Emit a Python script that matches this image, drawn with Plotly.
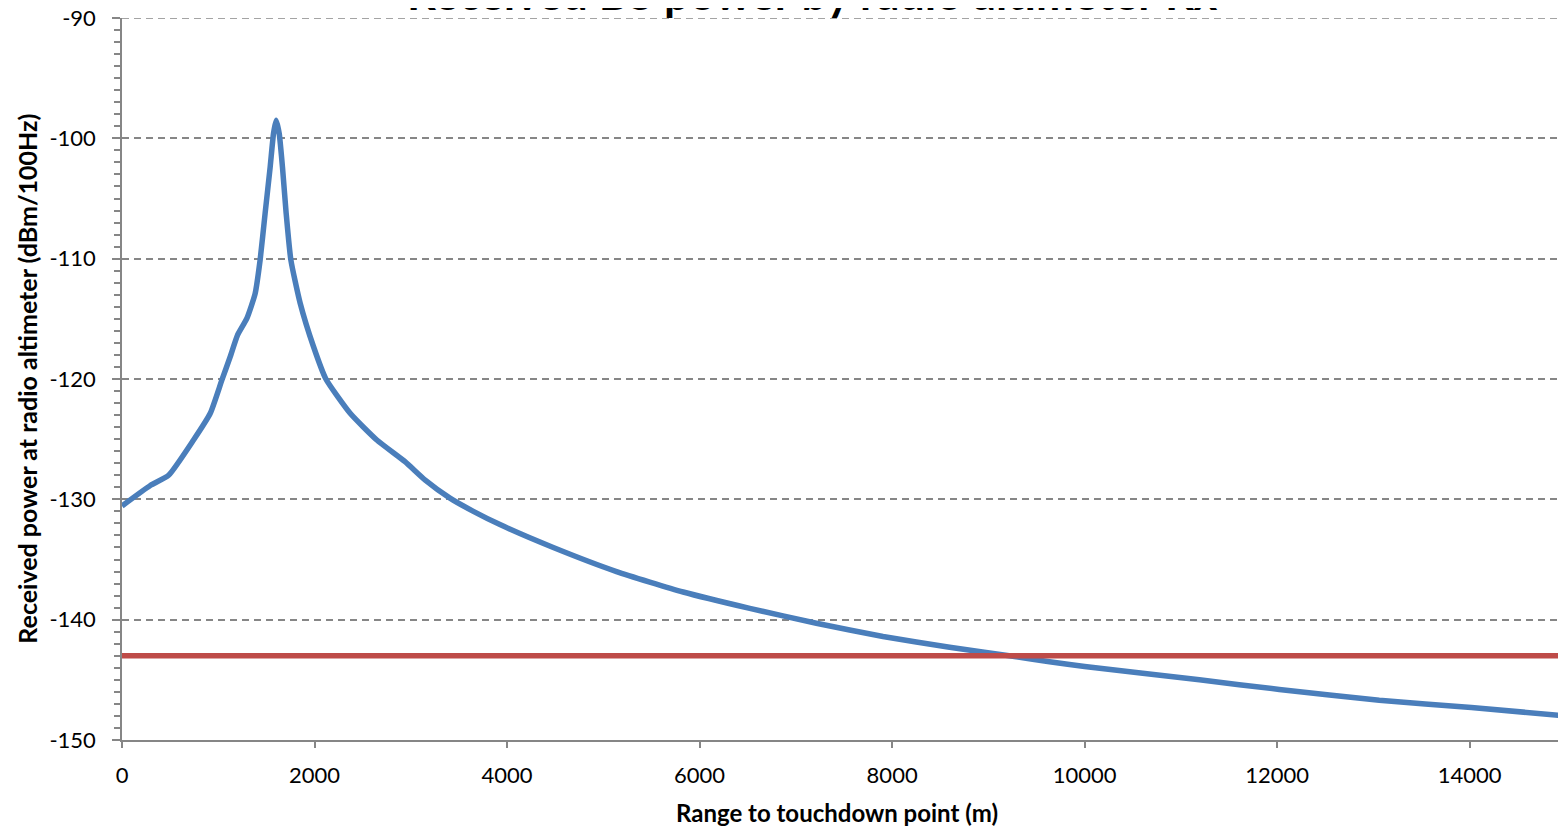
import plotly.graph_objects as go

# Data
range_m = [0, 294, 484, 743, 917, 1038, 1124, 1200, 1297, 1383, 1435, 1487, 1539,
           1574, 1601, 1633, 1667, 1705, 1754, 1851, 1989, 2118, 2370, 2647, 2940,
           3150, 3407, 3650, 3926, 4480, 5137, 5829, 6521, 7213, 7905, 8597, 9289,
           9635, 10000, 11192, 12022, 13060, 14017, 15000]
power_dbm = [-130.55, -128.85, -128.0, -125.07, -122.85, -120.08, -118.15, -116.35,
             -114.96, -112.9, -110.1, -106.2, -102.4, -99.6, -98.5, -99.6, -102.4,
             -106.2, -110.1, -113.7, -117.3, -120.0, -122.85, -125.07, -126.87,
             -128.4, -129.9, -131.0, -132.1, -134.0, -136.0, -137.7, -139.06, -140.3,
             -141.4, -142.3, -143.08, -143.5, -143.9, -145.0, -145.8, -146.7, -147.3,
             -148.0]
threshold_x = [0, 15000]
threshold_y = [-143, -143]

x_ticks = [0, 2000, 4000, 6000, 8000, 10000, 12000, 14000]
y_ticks = [-150, -140, -130, -120, -110, -100, -90]

FONT = "Lato"
GRID = "#868686"

fig = go.Figure()
fig.add_trace(go.Scatter(x=range_m, y=power_dbm, mode="lines",
                         line=dict(color="#4A7EBB", width=5.5, shape="spline", smoothing=0.5),
                         showlegend=False))
fig.add_trace(go.Scatter(x=threshold_x, y=threshold_y, mode="lines",
                         line=dict(color="#BE4B48", width=5.5),
                         showlegend=False))

# top gridline (at the upper range edge, which plotly omits)
fig.add_shape(type="line", xref="paper", x0=0, x1=1, yref="y", y0=y_ticks[-1], y1=y_ticks[-1],
              line=dict(color=GRID, width=1.5, dash="7px,5px"), layer="below")

fig.update_layout(
    width=1566, height=827,
    margin=dict(l=114, r=8, t=10, b=95),
    paper_bgcolor="white", plot_bgcolor="white",
    font=dict(family=FONT, size=22, color="black"),
    showlegend=False,
    xaxis=dict(range=[0, 15000], tickvals=x_ticks, ticktext=[str(v) for v in x_ticks],
               showgrid=False, zeroline=False, showline=True, linecolor=GRID, linewidth=1.5,
               ticks="outside", ticklen=6, tickwidth=1.5, tickcolor=GRID,
               tickfont=dict(family=FONT, size=22, color="black"), ticklabelstandoff=9,
               ticklabeloverflow="allow", automargin=False),
    yaxis=dict(range=[-150, -90], tickvals=y_ticks, ticktext=[str(v) for v in y_ticks],
               showgrid=True, gridcolor=GRID, gridwidth=1.5, griddash="7px,5px",
               zeroline=False, showline=True, linecolor=GRID, linewidth=1.5,
               ticks="outside", ticklen=8, tickwidth=1.5, tickcolor=GRID,
               minor=dict(dtick=1, ticks="outside", ticklen=6, tickwidth=1.5,
                          tickcolor=GRID, showgrid=False),
               tickfont=dict(family=FONT, size=22, color="black"), ticklabelstandoff=12,
               ticklabeloverflow="allow", automargin=False),
    annotations=[
        dict(text="<b>Received BS power by radio altimeter Rx</b>", xref="paper", yref="paper",
             x=0.478, y=0.995, xanchor="center", yanchor="bottom", showarrow=False,
             font=dict(family=FONT, size=45, color="black")),
        dict(text="<b>Range to touchdown point (m)</b>", xref="paper", yref="paper",
             x=0.4953, y=-0.1005, xanchor="center", yanchor="middle", showarrow=False,
             font=dict(family=FONT, size=24, color="black")),
        dict(text="<b>Received power at radio altimeter (dBm/100Hz)</b>", xref="paper", yref="paper",
             x=-0.066, y=0.5, xanchor="center", yanchor="middle", textangle=-90, showarrow=False,
             font=dict(family=FONT, size=25, color="black")),
    ],
)

fig.write_html("out.html")
